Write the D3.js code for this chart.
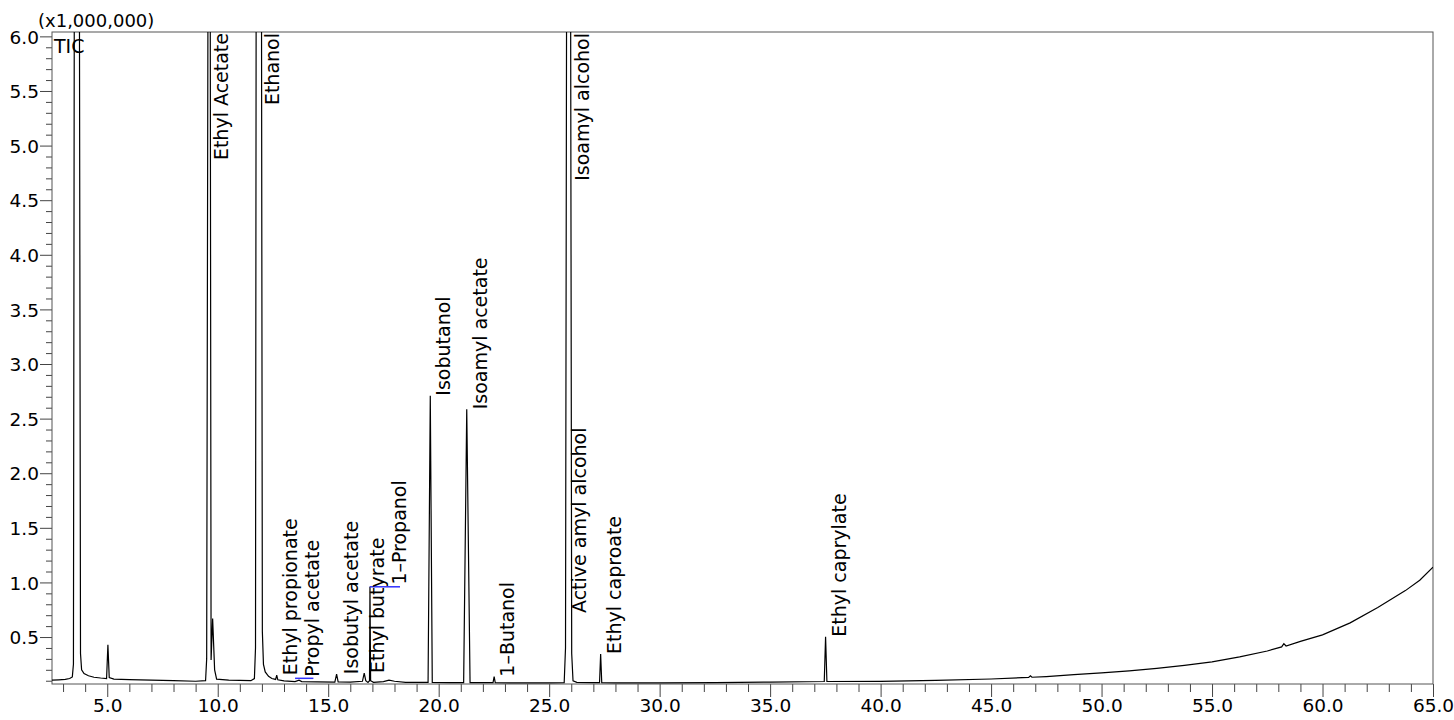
<!DOCTYPE html>
<html><head><meta charset="utf-8">
<script src="https://cdn.jsdelivr.net/npm/d3@7"></script>
<style>body{margin:0;background:#fff}svg{display:block}</style>
</head><body><svg id="c" width="1454" height="720"></svg>
<script>
// ---- data (retention time in min, intensity x1,000,000) ----
const retentionTime = [2.50,2.80,3.10,3.30,3.42,3.47,3.51,3.74,3.79,3.84,3.95,4.15,4.40,4.70,4.97,5.03,5.09,5.30,6.00,7.00,8.00,9.00,9.45,9.50,9.56,9.66,9.70,9.77,9.86,9.95,10.50,11.50,11.66,11.71,11.74,11.98,12.02,12.07,12.15,12.30,12.45,12.62,12.67,12.72,13.00,13.50,13.68,13.80,14.50,15.30,15.38,15.45,16.00,16.55,16.63,16.70,16.80,16.87,16.89,16.92,17.05,17.50,17.75,18.00,18.50,19.00,19.52,19.62,19.71,20.50,21.13,21.27,21.42,22.00,22.46,22.51,22.56,23.50,25.00,25.68,25.74,25.79,25.97,26.02,26.08,26.25,27.00,27.28,27.33,27.38,28.00,30.00,32.50,35.00,37.45,37.51,37.57,40.00,42.50,45.00,46.70,46.78,46.85,47.50,48.75,50.00,51.25,52.50,53.75,55.00,56.25,57.50,58.15,58.25,58.35,59.00,60.00,61.25,62.50,63.75,64.40,65.00];
const intensity = [0.105,0.108,0.112,0.120,0.135,0.25,6.5,6.5,0.35,0.20,0.165,0.145,0.132,0.125,0.12,0.43,0.13,0.115,0.11,0.105,0.10,0.095,0.10,0.30,6.5,6.5,0.29,0.67,0.20,0.115,0.105,0.10,0.12,0.40,6.5,6.5,0.55,0.25,0.18,0.14,0.12,0.112,0.15,0.108,0.098,0.092,0.105,0.092,0.09,0.088,0.16,0.09,0.088,0.095,0.17,0.10,0.085,0.10,0.96,0.10,0.085,0.092,0.105,0.095,0.085,0.085,0.085,2.71,0.085,0.083,0.083,2.585,0.083,0.082,0.082,0.137,0.082,0.08,0.08,0.082,0.40,6.5,6.5,0.35,0.10,0.085,0.082,0.082,0.345,0.082,0.08,0.08,0.083,0.088,0.093,0.503,0.093,0.094,0.103,0.116,0.130,0.145,0.132,0.138,0.155,0.172,0.190,0.213,0.240,0.272,0.318,0.372,0.410,0.440,0.418,0.460,0.520,0.630,0.770,0.925,1.020,1.140];

const peakNames = ["Ethyl Acetate","Ethanol","Ethyl propionate","Propyl acetate","Isobutyl acetate","Ethyl butyrate","1\u2013Propanol","Isobutanol","Isoamyl acetate","1\u2013Butanol","Isoamyl alcohol","Active amyl alcohol","Ethyl caproate","Ethyl caprylate"];
const peakTimes   = [9.54,11.87,12.67,13.68,15.45,16.63,17.60,19.62,21.27,22.51,25.89,25.78,27.33,37.51];
const peakHeights = [6.5,6.5,0.15,0.137,0.16,0.17,0.98,2.71,2.585,0.137,6.5,0.72,0.345,0.503];

const markerStart = [13.50, 16.88];
const markerEnd   = [14.33, 18.25];
const markerLevel = [0.122, 0.96];

const xMajorTicks = [5,10,15,20,25,30,35,40,45,50,55,60,65];
const yMajorTicks = [0.5,1.0,1.5,2.0,2.5,3.0,3.5,4.0,4.5,5.0,5.5,6.0];
const yUnitLabel = "(x1,000,000)";
const traceName = "TIC";

// ---- layout ----
const L = 52, R = 1433, T = 32, B = 684;
const FONT = "'DejaVu Sans', sans-serif";
const svg = d3.select("#c");
const x = d3.scaleLinear().domain([2.5, 65]).range([L, R]);
const y = d3.scaleLinear().domain([0.07, 6.04]).range([B, T]);

svg.append("defs").append("clipPath").attr("id","clip")
  .append("rect").attr("x", L).attr("y", T).attr("width", R - L).attr("height", B - T);

// axes
const xMinor = d3.range(3, 66, 1).filter(v => v % 5 !== 0);
const yMinor = d3.range(1, 61).map(v => v / 10).filter(v => Math.round(v * 10) % 5 !== 0);

const gxMinor = svg.append("g").attr("transform", `translate(0,${B})`)
  .call(d3.axisBottom(x).tickValues(xMinor).tickSize(8).tickFormat(""));
const gx = svg.append("g").attr("transform", `translate(0,${B})`)
  .call(d3.axisBottom(x).tickValues(xMajorTicks).tickSize(13).tickPadding(2).tickFormat(d3.format(".1f")));
const gyMinor = svg.append("g").attr("transform", `translate(${L},0)`)
  .call(d3.axisLeft(y).tickValues(yMinor).tickSize(6).tickFormat(""));
const gy = svg.append("g").attr("transform", `translate(${L},0)`)
  .call(d3.axisLeft(y).tickValues(yMajorTicks).tickSize(12).tickPadding(1).tickFormat(d3.format(".1f")));

[gxMinor, gx, gyMinor, gy].forEach(g => {
  g.select(".domain").remove();
  g.selectAll("line").attr("stroke", "#444");
  g.selectAll("text").attr("fill", "#000").style("font-family", FONT).style("font-size", "18.5px");
});
gy.selectAll("text").attr("dy", "0.36em");

// frame
svg.append("rect").attr("x", L).attr("y", T).attr("width", R - L).attr("height", B - T)
  .attr("fill", "none").attr("stroke", "#555").attr("stroke-width", 1);

// trace
const pts = retentionTime.map((t, i) => [t, intensity[i]]);
svg.append("path").datum(pts).attr("clip-path", "url(#clip)")
  .attr("fill", "none").attr("stroke", "#000").attr("stroke-width", 1.2)
  .attr("d", d3.line().x(d => x(d[0])).y(d => y(d[1])));

// integration markers
svg.append("g").selectAll("line").data(markerStart).join("line")
  .attr("x1", (d, i) => x(markerStart[i])).attr("x2", (d, i) => x(markerEnd[i]))
  .attr("y1", (d, i) => y(markerLevel[i])).attr("y2", (d, i) => y(markerLevel[i]))
  .attr("stroke", "#3030ff").attr("stroke-width", 1.5);

// peak labels
const ymax = y.domain()[1];
svg.append("g").selectAll("text").data(peakNames).join("text")
  .attr("transform", (d, i) => {
    const off = peakHeights[i] > ymax;
    const py = off ? T + 1 : y(peakHeights[i]);
    return `translate(${x(peakTimes[i]) + 20},${py}) rotate(-90)`;
  })
  .attr("text-anchor", (d, i) => peakHeights[i] > ymax ? "end" : "start")
  .style("font-family", FONT).style("font-size", "19px").attr("fill", "#000")
  .text(d => d);

// unit and trace name
svg.append("text").attr("x", 38).attr("y", 27).style("font-family", FONT).style("font-size", "18px").text(yUnitLabel);
svg.append("text").attr("x", 54).attr("y", 53).style("font-family", FONT).style("font-size", "19px").text(traceName);
</script>
</body></html>
